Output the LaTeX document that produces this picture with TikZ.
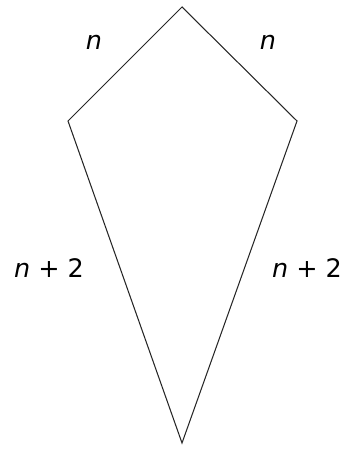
\documentclass[tikz,border=0pt]{standalone}
\usepackage{fontspec}
\setmainfont{DejaVu Sans}

\begin{document}
\begin{tikzpicture}[x=0.02cm, y=-0.02cm]

\tikzset{side/.style={anchor=base, font=\fontsize{14.5}{16}\selectfont, inner sep=0pt}}

\useasboundingbox (0,0) rectangle (343,455);

\coordinate (top) at (182,7);
\coordinate (left) at (68,121);
\coordinate (right) at (297,121);
\coordinate (bottom) at (182,443);

\draw[line width=0.6pt, black!85] (top) -- (right) -- (bottom) -- (left) -- cycle;

\node[side] at (94,50) (upleft) {\itshape n};
\node[side] at (268,50) (upright) {\itshape n};
\node[side] at (49,277) (lowleft) {{\itshape n} + 2};
\node[side] at (307,277) (lowright) {{\itshape n} + 2};

\end{tikzpicture}
\end{document}
